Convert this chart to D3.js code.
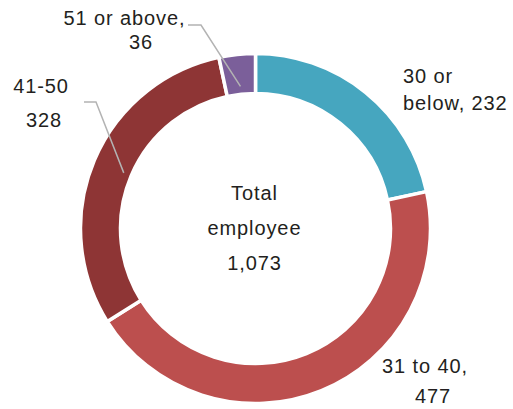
<!DOCTYPE html>
<html>
<head>
<meta charset="utf-8">
<script src="https://cdn.jsdelivr.net/npm/d3@7"></script>
<style>
  html, body { margin: 0; padding: 0; background: #ffffff; }
  svg { display: block; }
  text { font-family: "Liberation Sans", Arial, Helvetica, sans-serif; fill: #231f20; }
</style>
</head>
<body>
<svg id="chart" width="513" height="409"></svg>
<script>
const categories = ["30 or below", "31 to 40", "41-50", "51 or above"];
const values = [232, 477, 328, 36];
const colors = ["#46a6bf", "#bc4f4e", "#8e3535", "#7b5f9a"];
const labelLines = [["30 or", "below, 232"], ["31 to 40,", "477"], ["41-50", "328"], ["51 or above,", "36"]];
const centerLines = ["Total", "employee", "1,073"];

const W = 513, H = 409;
const cx = 255.5, cy = 228.5, rOuter = 175, rInner = 135;
const svg = d3.select("#chart");
const g = svg.append("g").attr("transform", `translate(${cx},${cy})`);

const pie = d3.pie().sort(null).value(d => d.value).startAngle(0).endAngle(2 * Math.PI);
const data = categories.map((c, i) => ({ cat: c, value: values[i], color: colors[i], lines: labelLines[i] }));
const arcs = pie(data);
const arc = d3.arc().innerRadius(rInner).outerRadius(rOuter);

g.selectAll("path.slice").data(arcs).enter().append("path")
  .attr("class", "slice")
  .attr("d", arc)
  .attr("fill", d => d.data.color)
  .attr("stroke", "#ffffff")
  .attr("stroke-width", 3.5)
  .attr("stroke-linejoin", "miter");

const labelPos = [
  [{ x: 147.5, y: -145.5, anchor: "start" }, { x: 147.5, y: -119, anchor: "start" }],
  [{ x: 169, y: 144.5, anchor: "middle" }, { x: 177, y: 174.5, anchor: "middle" }],
  [{ x: -215, y: -135.5, anchor: "middle" }, { x: -212, y: -101.5, anchor: "middle" }],
  [{ x: -131.5, y: -203.5, anchor: "middle" }, { x: -115, y: -179.5, anchor: "middle" }]
];

const fs = 20, ls = 0.9;
arcs.forEach((a, i) => {
  a.data.lines.forEach((t, j) => {
    const p = labelPos[i][j];
    g.append("text").attr("x", p.anchor === "middle" ? p.x + ls / 2 : p.x).attr("y", p.y)
      .attr("text-anchor", p.anchor)
      .attr("font-size", fs).attr("letter-spacing", ls).text(t);
  });
});

function leader(a, pts) {
  const mid = d3.arc().innerRadius(rInner + 8).outerRadius(rInner + 8).centroid(a);
  g.append("path").attr("d", d3.line()([...pts, mid])).attr("fill", "none")
    .attr("stroke", "#b3b3b3").attr("stroke-width", 1.5);
}
leader(arcs[3], [[-67.5, -203.5], [-54.5, -203.5]]);
leader(arcs[2], [[-171.5, -126.5], [-159.5, -126.5]]);

centerLines.forEach((t, j) => {
  g.append("text").attr("x", -1.5 + ls / 2).attr("y", -28.5 + j * 35)
    .attr("text-anchor", "middle").attr("font-size", fs).attr("letter-spacing", ls).text(t);
});
</script>
</body>
</html>
